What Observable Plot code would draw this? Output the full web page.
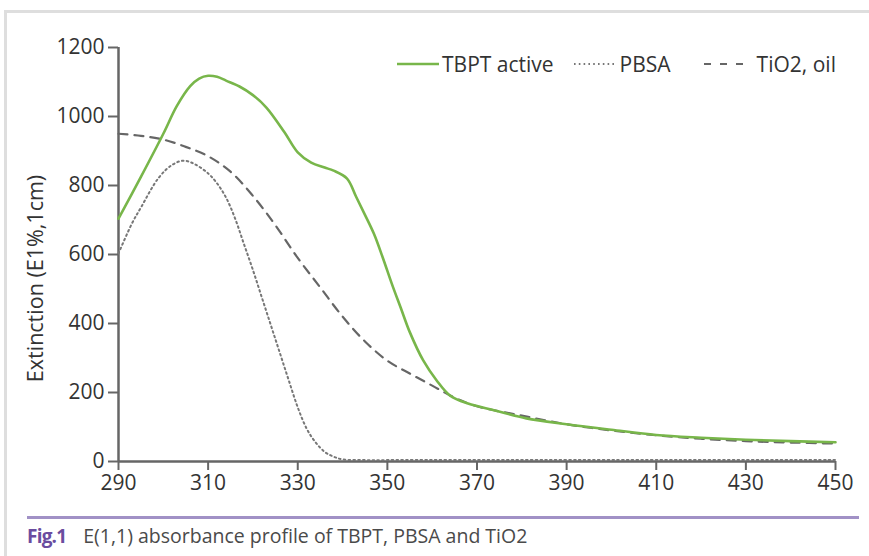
<!DOCTYPE html>
<html>
<head>
<meta charset="utf-8">
<script src="https://cdn.jsdelivr.net/npm/d3@7"></script>
<script src="https://cdn.jsdelivr.net/npm/@observablehq/plot@0.6"></script>
<style>
  html, body { margin: 0; padding: 0; background: #fff; }
  body { width: 869px; height: 556px; position: relative; overflow: hidden; font-family: "Open Sans", sans-serif; }
  #frame { position: absolute; left: 4px; top: 10px; right: -10px; bottom: -10px; border-top: 3px solid #dedede; border-left: 3px solid #dedede; }
  #chart { position: absolute; left: 0; top: 0; }
  #legend { position: absolute; top: 50px; left: 397px; font-size: 21px; color: #333; display: flex; align-items: center; white-space: nowrap; }
  #legend .item { display: flex; align-items: center; }
  #legend svg { display: block; }
  #rule { position: absolute; left: 27px; width: 832px; top: 516px; height: 3px; background: #a191c6; }
  #caption { position: absolute; left: 27px; top: 522px; font-size: 19.5px; color: #4a4a4a; white-space: nowrap; }
  #caption b { color: #6a4c9f; font-weight: 700; font-size: 19px; letter-spacing: -0.8px; margin-right: 17px; }
</style>
</head>
<body>
<div id="frame"></div>
<div id="chart"></div>
<div id="legend"></div>
<div id="rule"></div>
<div id="caption"><b>Fig.1</b>E(1,1) absorbance profile of TBPT, PBSA and TiO2</div>
<script>
// ---- data ----
const xTicks = [290, 310, 330, 350, 370, 390, 410, 430, 450];
const yTicks = [0, 200, 400, 600, 800, 1000, 1200];
const yLabel = "Extinction (E1%,1cm)";
const seriesNames = ["TBPT active", "PBSA", "TiO2, oil"];

const tbptX = [290, 295, 300, 303, 306, 308, 310, 312, 314, 317, 320, 323, 327, 330, 333, 336, 338, 341, 343, 345, 347, 349, 351, 353, 355, 358, 361, 364, 368, 374, 381, 390, 400, 410, 420, 430, 440, 450];
const tbptY = [704, 825, 950, 1030, 1088, 1110, 1118, 1115, 1104, 1087, 1062, 1026, 955, 896, 866, 852, 843, 820, 768, 715, 660, 590, 515, 445, 375, 293, 235, 191, 168, 148, 125, 108, 92, 77, 69, 63, 59, 56];

const pbsaX = [290, 293, 295, 299, 302, 304.5, 307, 310, 312, 314, 316, 318, 320, 322, 324, 326, 328, 330, 332, 334, 336, 338, 340, 345, 350, 370, 400, 450];
const pbsaY = [603, 690, 736, 823, 860, 872, 862, 835, 806, 765, 705, 630, 555, 475, 395, 315, 235, 157, 95, 55, 28, 14, 6, 4, 4, 4, 4, 4];

const tioX = [290, 295, 300, 305, 310, 315, 320, 325, 330, 335, 340, 345, 350, 355, 360, 365, 370, 380, 390, 400, 410, 420, 430, 440, 450];
const tioY = [950, 944, 933, 912, 885, 840, 770, 685, 590, 505, 420, 348, 292, 255, 220, 185, 160, 133, 108, 90, 76, 66, 59, 55, 52];

const colors = ["#78b64a", "#777777", "#666666"];

// build tables
const toRows = (xs, ys) => xs.map((x, i) => ({x, y: ys[i]}));
const tbpt = toRows(tbptX, tbptY);
const pbsa = toRows(pbsaX, pbsaY);
const tio = toRows(tioX, tioY);

const font = "'Open Sans', sans-serif";
const axisColor = "#666";

const chart = Plot.plot({
  width: 869,
  height: 500,
  marginLeft: 118,
  marginRight: 34,
  marginTop: 47,
  marginBottom: 39,
  style: {fontFamily: font, fontSize: "21px", color: "#333", background: "transparent", overflow: "visible"},
  x: {domain: [290, 450]},
  y: {domain: [0, 1200]},
  marks: [
    Plot.axisX({ticks: xTicks, tickSize: 9, tickPadding: 5, tickFormat: d => String(d), label: null, stroke: axisColor, strokeWidth: 2, fill: "#333", fontSize: 21}),
    Plot.axisY({ticks: yTicks, tickSize: 10, tickPadding: 4, tickFormat: d => String(d), label: null, stroke: axisColor, strokeWidth: 2, fill: "#333", fontSize: 21}),
    Plot.ruleX([290], {y1: 0, y2: 1200, stroke: axisColor, strokeWidth: 2.5}),
    Plot.ruleY([0], {x1: 290, x2: 450, stroke: axisColor, strokeWidth: 2.5}),
    Plot.text([yLabel], {frameAnchor: "left", rotate: -90, dx: -82, dy: 24, fontSize: 21.5, fill: "#333", textAnchor: "middle", lineAnchor: "middle"}),
    Plot.line(tio, {x: "x", y: "y", stroke: colors[2], strokeWidth: 2.2, strokeDasharray: "9,7", curve: "catmull-rom"}),
    Plot.line(pbsa, {x: "x", y: "y", stroke: colors[1], strokeWidth: 2, strokeDasharray: "1.6,3.2", curve: "catmull-rom"}),
    Plot.line(tbpt, {x: "x", y: "y", stroke: colors[0], strokeWidth: 2.6, curve: "catmull-rom"})
  ]
});
document.getElementById("chart").appendChild(chart);

// legend
const dashes = [null, "1.6,3.2", "7,9"];
const widths = [2.6, 2, 2.2];
const gaps = [0, 20, 33];
const textGaps = [3, 4, 11];
const legend = document.getElementById("legend");
seriesNames.forEach((name, i) => {
  const item = document.createElement("div");
  item.className = "item";
  item.style.marginLeft = gaps[i] + "px";
  const ns = "http://www.w3.org/2000/svg";
  const s = document.createElementNS(ns, "svg");
  s.setAttribute("width", 42); s.setAttribute("height", 6);
  const l = document.createElementNS(ns, "line");
  l.setAttribute("x1", 0); l.setAttribute("x2", 42); l.setAttribute("y1", 3); l.setAttribute("y2", 3);
  l.setAttribute("stroke", colors[i]); l.setAttribute("stroke-width", widths[i]);
  if (dashes[i]) l.setAttribute("stroke-dasharray", dashes[i]);
  s.appendChild(l);
  const t = document.createElement("span");
  t.textContent = name;
  t.style.marginLeft = textGaps[i] + "px";
  item.appendChild(s); item.appendChild(t);
  legend.appendChild(item);
});
</script>
</body>
</html>
